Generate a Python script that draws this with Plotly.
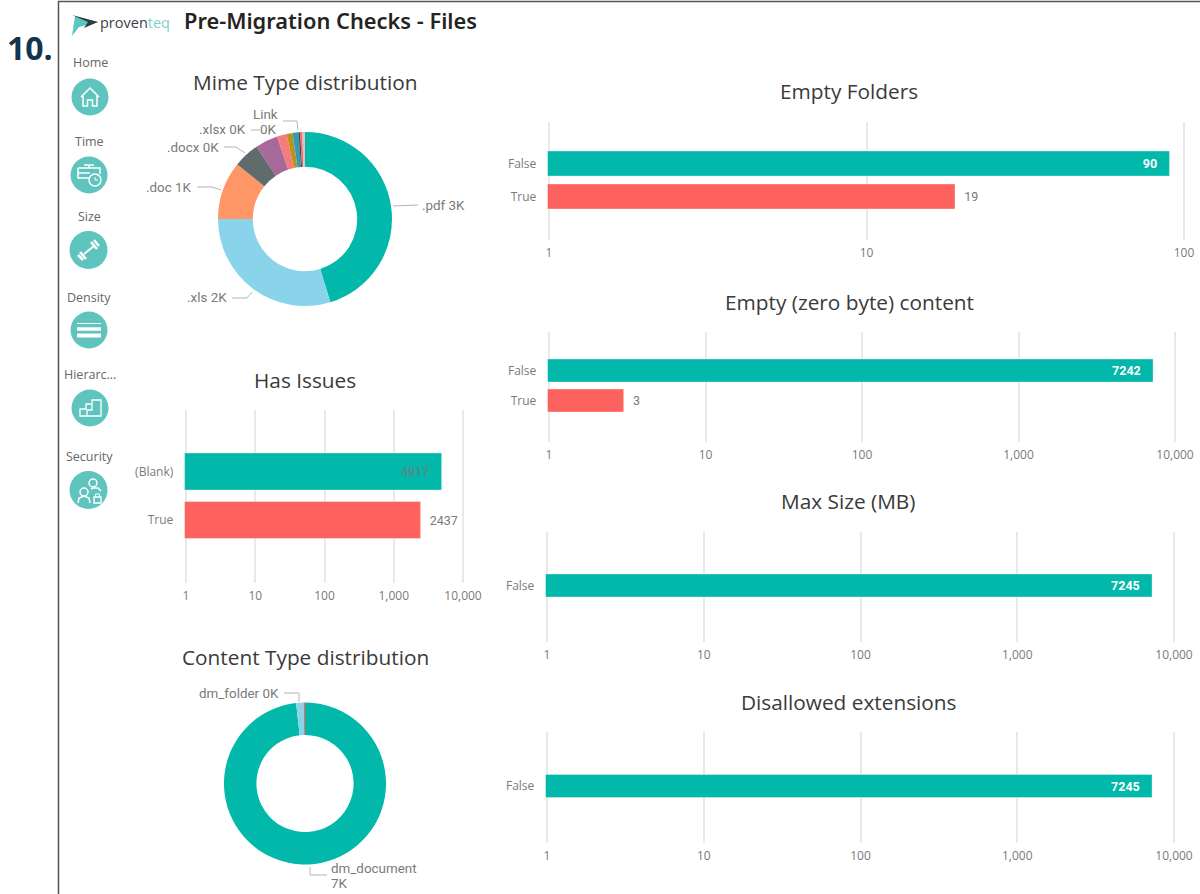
import math
import plotly.graph_objects as go

W, H = 1200, 894

# ---------- data ----------
mime_labels = [".pdf", ".xls", ".doc", ".docx", ".xlsx", "Link", "type7", "type8", "type9", "type10", "type11"]
mime_values = [3282, 2152, 782, 348, 304, 130, 80, 80, 22, 29, 36]
mime_colors = ["#01B8AA", "#8AD4EB", "#FE9666", "#5F6B6D", "#A66999", "#F47C7C", "#B8941F", "#3599B8", "#374649", "#FD625E", "#DFBFBF"]

content_labels = ["dm_document", "dm_folder", "other"]
content_values = [7245, 109, 20]
content_colors = ["#01B8AA", "#8AD4EB", "#FD625E"]

issues_cats = ["(Blank)", "True"]
issues_vals = [4917, 2437]
folders_cats = ["False", "True"]
folders_vals = [90, 19]
zero_cats = ["False", "True"]
zero_vals = [7242, 3]
maxsize_cats = ["False"]
maxsize_vals = [7245]
disallowed_cats = ["False"]
disallowed_vals = [7245]

ticks_100 = [1, 10, 100]
ticks_10k = [1, 10, 100, 1000, 10000]

nav_labels = ["Home", "Time", "Size", "Density", "Hierarc...", "Security"]

# ---------- style ----------
TEAL, RED = "#01B8AA", "#FD625E"
FONT_T = "Open Sans"
FONT_L = "Roboto"
GREY = "#7a7a7a"
TITLE_C = "#3a3a3a"
PAD_IN = "\u00a0\u00a0\u00a0"
PAD_OUT = "\u00a0\u00a0"


def px(x):
    return x / W


def py(y):
    return 1 - y / H


fig = go.Figure()
shapes, annos = [], []


def text(x, y, s, size=12, color=GREY, family=FONT_T, anchor="center", **kw):
    annos.append(dict(x=px(x), y=py(y), xref="paper", yref="paper", text=s, showarrow=False,
                      xanchor=anchor, yanchor="middle", borderpad=0, borderwidth=0,
                      font=dict(size=size, color=color, family=family), **kw))


def path(pts_str_list, color="#ffffff", width=1.5, fill=None):
    d = ""
    for pts in pts_str_list:
        closed = pts[-1] == "Z"
        seq = pts[:-1] if closed else pts
        d += "M" + " L".join(f"{px(a):.5f},{py(b):.5f}" for a, b in seq)
        if closed:
            d += " Z"
        d += " "
    shapes.append(dict(type="path", xref="paper", yref="paper", path=d.strip(),
                       line=dict(color=color, width=width), fillcolor=fill or "rgba(0,0,0,0)", layer="above"))


def circle(cx, cy, r, fill=None, line=None, width=1.5):
    shapes.append(dict(type="circle", xref="paper", yref="paper",
                       x0=px(cx - r), x1=px(cx + r), y0=py(cy + r), y1=py(cy - r),
                       fillcolor=fill or "rgba(0,0,0,0)",
                       line=dict(color=line or "rgba(0,0,0,0)", width=width), layer="above"))


def donut(labels, values, colors, cx, cy, r):
    fig.add_trace(go.Pie(labels=labels, values=values, hole=0.6, sort=False, direction="clockwise",
                         rotation=0, textinfo="none", hoverinfo="label+value",
                         marker=dict(colors=colors, line=dict(width=0)), showlegend=False,
                         domain=dict(x=[px(cx - r), px(cx + r)], y=[py(cy + r), py(cy - r)])))


axis_count = [0]
layout_axes = {}


def hbar(cats, vals, ticks, x1, x_end_px, top, bottom, first_c, unit, bar_px, colors, text_colors, text_pos, bold):
    axis_count[0] += 1
    n = axis_count[0]
    sfx = "" if n == 1 else str(n)
    labels = []
    for v, pos, b in zip(vals, text_pos, bold):
        s = f"<b>{v}</b>" if b else str(v)
        labels.append(s + PAD_IN if pos == "inside" else PAD_OUT + s)
    fig.add_trace(go.Bar(y=cats, x=vals, orientation="h", xaxis=f"x{sfx}", yaxis=f"y{sfx}",
                         width=bar_px / unit,
                         marker=dict(color=colors, line=dict(width=1, color="rgba(255,255,255,0.35)")),
                         text=labels, textposition=text_pos, insidetextanchor="end",
                         textangle=0, constraintext="none", cliponaxis=False,
                         textfont=dict(color=text_colors, family=FONT_L, size=12.5),
                         showlegend=False, hoverinfo="x+y"))
    span = math.log10(ticks[-1])
    per = (x_end_px - x1) / span
    eps = 1.3 / per
    layout_axes[f"xaxis{sfx}"] = dict(type="log", range=[-eps, span + eps], tickvals=ticks, tickformat=",",
                                      domain=[px(x1 - eps * per), px(x_end_px + eps * per)], anchor=f"y{sfx}",
                                      showgrid=True, gridcolor="#e9e9e9", gridwidth=1.5, zeroline=False,
                                      showline=False, ticks="outside", ticklen=2, tickcolor="rgba(0,0,0,0)",
                                      tickfont=dict(size=12, color=GREY, family=FONT_T))
    layout_axes[f"yaxis{sfx}"] = dict(type="category", categoryorder="array", categoryarray=cats,
                                      range=[(bottom - first_c) / unit, (top - first_c) / unit],
                                      domain=[py(bottom), py(top)], anchor=f"x{sfx}",
                                      showgrid=False, zeroline=False, showline=False,
                                      ticks="outside", ticklen=8, tickcolor="rgba(0,0,0,0)",
                                      tickfont=dict(size=12, color=GREY, family=FONT_T))


# ---------- charts ----------
donut(mime_labels, mime_values, mime_colors, 305, 219, 87)
donut(content_labels, content_values, content_colors, 305, 783.5, 81)

hbar(issues_cats, issues_vals, ticks_10k, 186, 463, 410, 583, 471.5, 48.5, 37, [TEAL, RED],
     [GREY, GREY], ["inside", "outside"], [False, False])
hbar(folders_cats, folders_vals, ticks_100, 549, 1184, 122, 240, 163.5, 33, 25, [TEAL, RED],
     ["#ffffff", GREY], ["inside", "outside"], [True, False])
hbar(zero_cats, zero_vals, ticks_10k, 549, 1175, 332, 442, 370.5, 30, 23, [TEAL, RED],
     ["#ffffff", GREY], ["inside", "outside"], [True, False])
hbar(maxsize_cats, maxsize_vals, ticks_10k, 547, 1174, 532, 642, 585.5, 30, 23, [TEAL],
     ["#ffffff"], ["inside"], [True])
hbar(disallowed_cats, disallowed_vals, ticks_10k, 547, 1174, 732, 843, 786, 30, 23, [TEAL],
     ["#ffffff"], ["inside"], [True])

# ---------- titles ----------
for cx, cy, t in [(305, 82, "Mime Type distribution"), (305, 380, "Has Issues"), (305, 657, "Content Type distribution"),
                  (849, 91.5, "Empty Folders"), (849, 301.5, "Empty (zero byte) content"),
                  (848, 500.5, "Max Size (MB)"), (848, 701.5, "Disallowed extensions")]:
    text(cx, cy, t, size=20.8, color=TITLE_C)

text(330, 20, "Pre-Migration Checks - Files", size=21.8, color="#252423", family="Noto Sans")
annos[-1]["font"]["weight"] = 600
text(30, 47, "10.", size=32, color="#12344D", family="Open Sans")
annos[-1]["font"]["weight"] = 700

# ---------- pie labels ----------
LBL = 13.4
text(465, 205, f"{mime_labels[0]} 3K", size=LBL, family=FONT_L, anchor="right")
text(227, 298, f"{mime_labels[1]} 2K", size=LBL, family=FONT_L, anchor="right")
text(192, 187, f"{mime_labels[2]} 1K", size=LBL, family=FONT_L, anchor="right")
text(219, 147, f"{mime_labels[3]} 0K", size=LBL, family=FONT_L, anchor="right")
text(246, 130, f"{mime_labels[4]} 0K", size=LBL, family=FONT_L, anchor="right")
text(278, 114, mime_labels[5], size=LBL, family=FONT_L, anchor="right")
text(277, 130, "0K", size=LBL, family=FONT_L, anchor="right")
text(279, 693, f"{content_labels[1]} 0K", size=LBL, family=FONT_L, anchor="right")
text(331, 868, content_labels[0], size=LBL, family=FONT_L, anchor="left")
text(331, 883, "7K", size=LBL, family=FONT_L, anchor="left")

LEAD = "#b5b5b5"
for pts in [[(393, 206), (418, 205)],
            [(232, 298), (247, 298), (252, 292)],
            [(197, 187), (212, 187), (221, 190)],
            [(224, 147), (236, 147), (245, 153)],
            [(251, 130), (260, 130)],
            [(270, 130), (269, 135)],
            [(283, 121), (297, 121), (298, 130)],
            [(284, 693), (299, 693), (299, 702)],
            [(310, 867), (310, 875), (327, 875)]]:
    path([pts], color=LEAD, width=1)

# ---------- frame ----------
path([[(58.5, H), (58.5, 1.5), (W, 1.5)]], color="#555555", width=1.5)

# ---------- logo ----------
path([[(75, 16), (98, 22), (79, 27), (72, 36), "Z"]], color="rgba(0,0,0,0)", width=0, fill="#5CC6C0")
path([[(72, 15), (98, 22), (84, 28), (88, 22), "Z"]], color="rgba(0,0,0,0)", width=0, fill="#2F3A44")
text(100, 22, '<span style="color:#3a3f47">proven</span><span style="color:#7fd0cb">teq</span>',
     size=14.5, family="Open Sans", anchor="left")

# ---------- nav ----------
for (lx, ly), s in zip([(90, 63), (89, 142), (89, 216), (89, 297), (90, 374), (89, 457)], nav_labels):
    text(lx, ly, s, size=12.5, color="#666666")
for cx, cy, r in [(90, 97, 18.5), (89, 175, 18.5), (88.5, 250, 19), (89, 330, 18.5), (90, 408, 18.5), (88.5, 490, 19)]:
    circle(cx, cy, r, fill="#5FC4BE")

WHITE = "#ffffff"
# home
path([[(81, 97), (90, 88), (99, 97)], [(83, 96), (83, 106), (87.5, 106), (87.5, 100), (92.5, 100), (92.5, 106), (97, 106), (97, 96)]])
# time
path([[(78, 168), (100, 168), (100, 174)], [(78, 168), (78, 178), (89, 178)], [(78, 173), (90, 173)], [(89, 165), (89, 168)], [(84, 165), (94, 165)]])
circle(95, 180, 6, line=WHITE)
path([[(95, 177), (95, 180), (98, 180)]], width=1)
# size
path([[(84, 254), (94, 246)]], width=2)
path([[(80, 252), (86, 259)], [(78, 255), (83, 260)], [(91, 242), (97, 249)], [(94, 240), (99, 246)]], width=2.5)
# density
path([[(77, 323.5), (101, 323.5)]], width=1)
path([[(77, 329), (101, 329)]], width=3.5)
path([[(77, 335.5), (101, 335.5)]], width=4)
# hierarchy
path([[(80, 416), (80, 409), (86, 409), (86, 404), (92, 404), (92, 400), (101, 400), (101, 416), "Z"],
      [(92, 404), (92, 410), (87, 410), (87, 416)]], width=1.3)
# security
circle(93, 483, 4, line=WHITE)
circle(84, 492, 4, line=WHITE)
path([[(78, 503), (79, 498), (84, 496), (89, 498), (90, 503)], [(91, 489), (93, 488), (98, 488), (101, 491)]], width=1.5)
path([[(94, 497), (101, 497), (101, 503), (94, 503), "Z"]], width=1.3)
path([[(95.5, 497), (95.5, 494), (99.5, 494), (99.5, 497)]], width=1)

fig.update_layout(width=W, height=H, margin=dict(l=0, r=0, t=0, b=0, autoexpand=False), autosize=False,
                  paper_bgcolor="white", plot_bgcolor="white", showlegend=False,
                  shapes=shapes, annotations=annos, uniformtext=dict(mode=False), **layout_axes)

fig.write_html("out.html", config={"displayModeBar": False},
               post_script="document.body.style.margin='0';document.documentElement.style.overflow='hidden';")
